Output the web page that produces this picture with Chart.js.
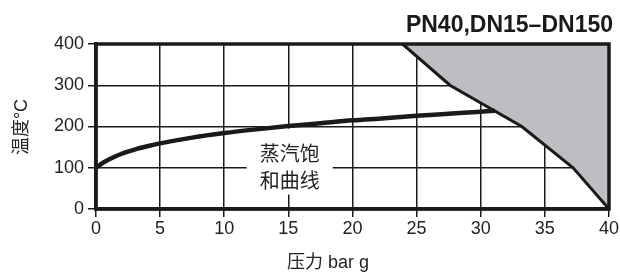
<!DOCTYPE html>
<html>
<head>
<meta charset="utf-8">
<script src="https://cdn.jsdelivr.net/npm/chart.js@4"></script>
<style>
  html, body { margin: 0; padding: 0; background: #fff; }
  #wrap { width: 620px; height: 275px; position: relative; }
</style>
</head>
<body>
<div id="wrap"><canvas id="chart"></canvas></div>
<script>
// saturation curve (bar g -> deg C)
var satPressure = [0, 0.5, 1, 2, 3, 4, 5, 7.5, 10, 12.5, 15, 17.5, 20, 22.5, 25, 27.5, 30, 31.1];
var satTemp     = [100, 111, 120, 134, 144, 152, 159, 173, 184, 193, 201, 208, 215, 220, 226, 231, 236, 238];

// limit of the grey (not allowed) area
var limitPressure = [23.9, 27.6, 33.2, 37.2, 40];
var limitTemp     = [400, 300, 200, 100, 0];

var xTicks = [0, 5, 10, 15, 20, 25, 30, 35, 40];
var yTicks = [0, 100, 200, 300, 400];

var titleText = 'PN40,DN15\u2013DN150';
var xTitle = '压力 bar g';
var yTitle = '温度°C';
var curveLabel = ['蒸汽饱', '和曲线'];

var latin = '"Liberation Sans", Arial, "Noto Sans CJK SC", sans-serif';

function toPoints(xs, ys){
    var pts = [];
    for (var i = 0; i < xs.length; i++) pts.push({x: xs[i], y: ys[i]});
    return pts;
}

var textPlugin = {
    id: 'texts',
    beforeDatasetsDraw: function(chart){
        var ctx = chart.ctx;
        var x = chart.scales.x, y = chart.scales.y;
        // white box behind the curve label
        var cx = x.getPixelForValue(15.1);
        ctx.save();
        ctx.fillStyle = '#fff';
        ctx.fillRect(cx - 43, y.getPixelForValue(195), 86, y.getPixelForValue(35) - y.getPixelForValue(195));
        ctx.fillStyle = '#222';
        ctx.font = '20px "Noto Sans CJK SC", sans-serif';
        ctx.textAlign = 'center';
        ctx.textBaseline = 'middle';
        ctx.fillText(curveLabel[0], cx, 153);
        ctx.fillText(curveLabel[1], cx, 180);
        ctx.restore();
    },
    afterDatasetsDraw: function(chart){
        var ctx = chart.ctx, a = chart.chartArea;
        ctx.save();
        ctx.strokeStyle = '#1a1a1a';
        ctx.lineWidth = 3.5;
        ctx.strokeRect(a.left, a.top, a.right - a.left, a.bottom - a.top);

        ctx.fillStyle = '#1a1a1a';
        ctx.font = 'bold 23px ' + latin;
        ctx.textAlign = 'right';
        ctx.textBaseline = 'alphabetic';
        ctx.fillText(titleText, 613, 32);

        ctx.fillStyle = '#222';
        ctx.font = '18px ' + latin;
        ctx.textAlign = 'center';
        ctx.fillText(xTitle, 328, 268);

        ctx.translate(22, 127);
        ctx.rotate(-Math.PI / 2);
        ctx.textBaseline = 'middle';
        ctx.fillText(yTitle, 0, 0);
        ctx.restore();
    }
};

var ctx = document.getElementById('chart').getContext('2d');
var myChart = new Chart(ctx, {
    type: 'line',
    data: {
        datasets: [
            {
                label: 'sat',
                data: toPoints(satPressure, satTemp),
                borderColor: '#1a1a1a',
                borderWidth: 4.5,
                pointRadius: 0,
                cubicInterpolationMode: 'monotone',
                fill: false
            },
            {
                label: 'limit',
                data: toPoints(limitPressure, limitTemp),
                borderColor: '#1a1a1a',
                backgroundColor: '#bdbec2',
                borderWidth: 3,
                pointRadius: 0,
                tension: 0,
                fill: 'end'
            }
        ]
    },
    options: {
        responsive: true,
        maintainAspectRatio: false,
        animation: false,
        layout: { padding: { top: 44, right: 7, left: 0, bottom: 0 } },
        plugins: {
            legend: { display: false },
            tooltip: { enabled: false },
            filler: { drawTime: 'beforeDatasetsDraw' }
        },
        scales: {
            x: {
                type: 'linear',
                min: 0, max: 40,
                afterFit: function(s){ s.height = 66; },
                afterBuildTicks: function(s){ s.ticks = xTicks.map(function(v){ return {value: v}; }); },
                grid: { color: '#1a1a1a', lineWidth: 1.5, tickLength: 8 },
                border: { color: '#1a1a1a', width: 3.5 },
                ticks: { color: '#222', font: { size: 18, family: latin }, padding: 1, maxRotation: 0 }
            },
            y: {
                type: 'linear',
                min: 0, max: 400,
                afterFit: function(s){ s.width = 96; },
                afterBuildTicks: function(s){ s.ticks = yTicks.map(function(v){ return {value: v}; }); },
                grid: { color: '#1a1a1a', lineWidth: 1.5, tickLength: 8 },
                border: { color: '#1a1a1a', width: 3.5 },
                ticks: { color: '#222', font: { size: 18, family: latin }, padding: 4 }
            }
        }
    },
    plugins: [textPlugin]
});
</script>
</body>
</html>
